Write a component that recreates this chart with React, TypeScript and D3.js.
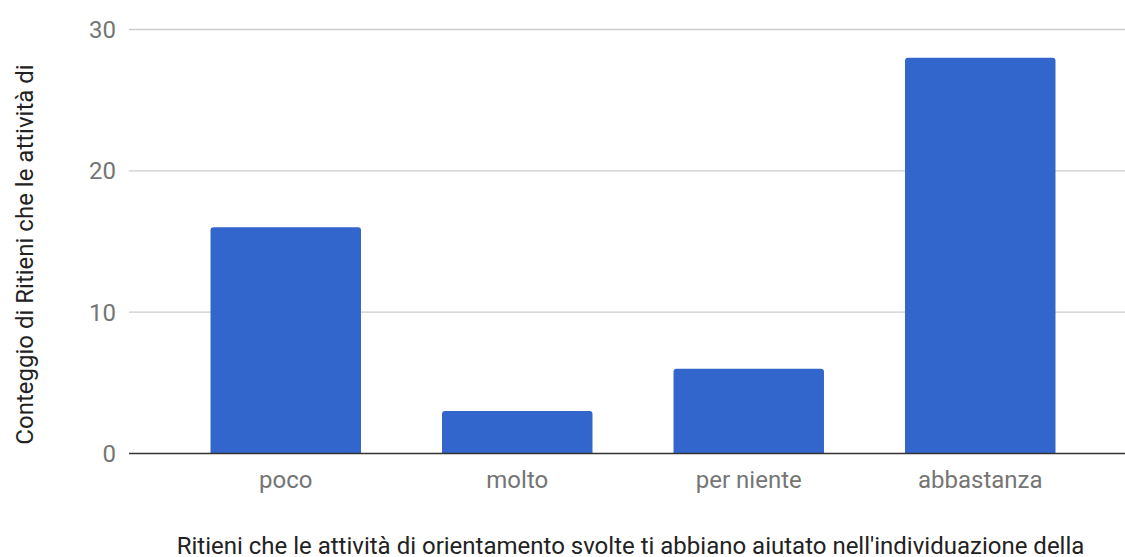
import React from "react";
import * as d3 from "d3";

const categories = ["poco", "molto", "per niente", "abbastanza"];
const values = [16, 3, 6, 28];
const yTicks = [0, 10, 20, 30];
const yTitle = "Conteggio di Ritieni che le attività di";
const xTitle = "Ritieni che le attività di orientamento svolte ti abbiano aiutato nell'individuazione della";

const W = 1125;
const H = 557;

export default function App() {
  const x = d3.scaleBand<string>().domain(categories).range([170, 1096]).paddingInner(0.35).paddingOuter(0.175);
  const y = d3.scaleLinear().domain([0, 30]).range([453.5, 29.5]);
  const r = 3;
  const barPath = (cx: number, w: number, top: number, bottom: number) => {
    const rr = Math.min(r, (bottom - top) / 2);
    return `M${cx},${bottom}V${top + rr}Q${cx},${top} ${cx + rr},${top}H${cx + w - rr}Q${cx + w},${top} ${cx + w},${top + rr}V${bottom}Z`;
  };
  return (
    <svg width={W} height={H} style={{ position: "absolute", left: 0, top: 0, fontFamily: "Roboto, sans-serif" }}>
      <rect width={W} height={H} fill="#fff" />
      {yTicks.filter((t) => t !== 0).map((t) => (
        <line key={t} x1={129} x2={W} y1={y(t)} y2={y(t)} stroke="#cccccc" strokeWidth={1.3} />
      ))}
      {yTicks.map((t) => (
        <text key={"l" + t} x={116} y={y(t) + 8.5} textAnchor="end" fontSize={24} fill="#757575">
          {t}
        </text>
      ))}
      {categories.map((c, i) => (
        <path key={c} d={barPath(x(c)!, x.bandwidth(), y(values[i]), y(0))} fill="#3366cc" />
      ))}
      <line x1={129} x2={W} y1={y(0)} y2={y(0)} stroke="#333333" strokeWidth={1.5} />
      {categories.map((c) => (
        <text key={"x" + c} x={x(c)! + x.bandwidth() / 2} y={488} textAnchor="middle" fontSize={24} fill="#757575">
          {c}
        </text>
      ))}
      <text x={630.5} y={554} textAnchor="middle" fontSize={24} fill="#222222">
        {xTitle}
      </text>
      <text transform={`translate(33,254.5) rotate(-90)`} textAnchor="middle" fontSize={24} fill="#222222">
        {yTitle}
      </text>
    </svg>
  );
}
